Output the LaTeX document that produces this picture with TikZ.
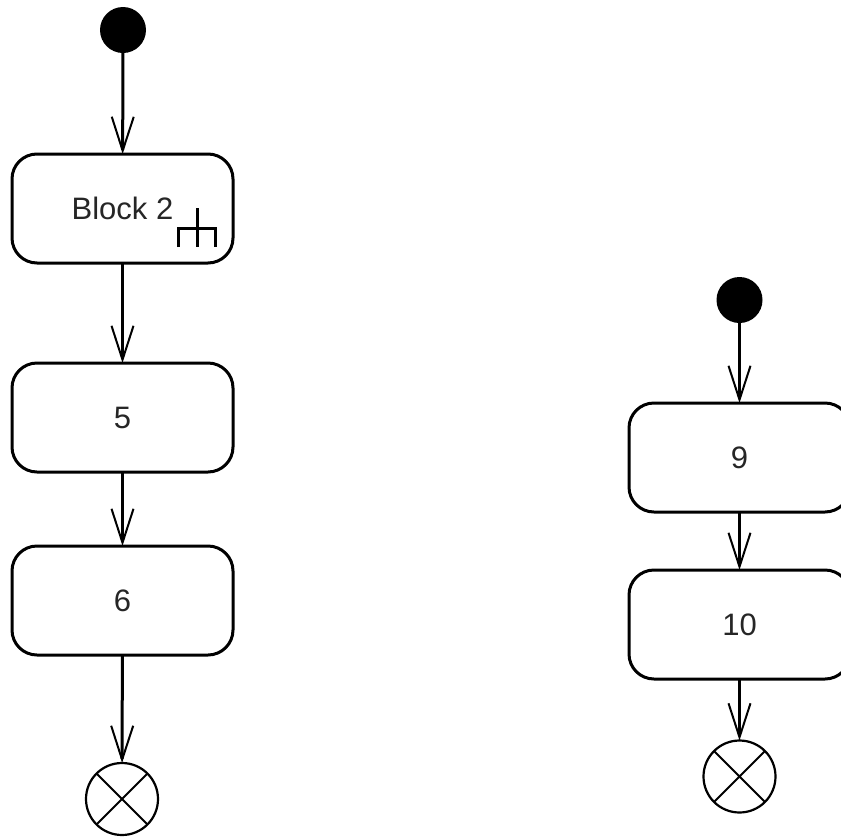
\documentclass[tikz,border=0pt]{standalone}
\usepackage{fontspec}
\setmainfont{Liberation Sans}
\usetikzlibrary{arrows.meta}
\begin{document}
\begin{tikzpicture}[x=1pt,y=-1pt,
  act/.style={draw, line width=3pt, rounded corners=25pt, minimum width=221pt, minimum height=109pt, inner sep=0pt, outer sep=0pt, font=\fontsize{31}{36}\selectfont, text=black!85},
  init/.style={circle, fill=black, minimum size=46pt, inner sep=0pt, outer sep=0pt},
  final/.style={circle, draw, line width=2.2pt, minimum size=72pt, inner sep=0pt, outer sep=0pt},
  flow/.style={line width=3pt, -{Straight Barb[length=34pt,width=22pt,line width=2pt]}},
  xline/.style={line width=2pt},
  rake/.style={line width=3pt},
]
\useasboundingbox (0,0) rectangle (841,836);
% left column
\node[init] (i1) at (123,30) {};
\node[act] (b2) at (122.5,208.5) {Block 2};
\node[act] (b5) at (122.5,417.5) {5};
\node[act] (b6) at (122.5,600.5) {6};
\node[final] (f1) at (122,799) {};
% right column
\node[init] (i2) at (739.5,300) {};
\node[act] (b9) at (739.5,457.5) {9};
\node[act] (b10) at (739.5,624.5) {10};
\node[final] (f2) at (739.5,776.5) {};
% crosses in final nodes
\draw[xline] (f1.north west) -- (f1.south east) (f1.north east) -- (f1.south west);
\draw[xline] (f2.north west) -- (f2.south east) (f2.north east) -- (f2.south west);
% rake symbol
\draw[rake] ([shift={(74.5,-0.5)}]b2.center) -- ([shift={(74.5,38.5)}]b2.center);
\draw[rake] ([shift={(55.5,38.5)}]b2.center) -- ([shift={(55.5,19.5)}]b2.center) -- ([shift={(92.5,19.5)}]b2.center) -- ([shift={(92.5,38.5)}]b2.center);
% flows
\draw[flow] (i1) -- (b2);
\draw[flow] (b2) -- (b5);
\draw[flow] (b5) -- (b6);
\draw[flow] (b6) -- (f1);
\draw[flow] (i2) -- (b9);
\draw[flow] (b9) -- (b10);
\draw[flow] (b10) -- (f2);
\end{tikzpicture}
\end{document}
